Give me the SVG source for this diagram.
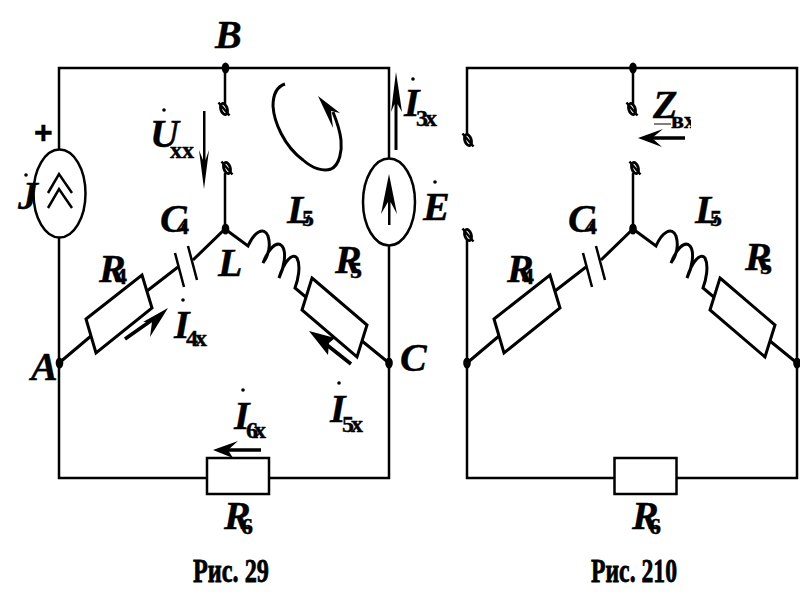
<svg xmlns="http://www.w3.org/2000/svg" width="800" height="608" viewBox="0 0 800 608">
<style>
.w{fill:none;stroke:#000;stroke-width:2.5;stroke-linejoin:miter}
.d{fill:none;stroke:#000;stroke-width:3;stroke-linejoin:miter}
.r{fill:#fff;stroke:#000;stroke-width:2.5}
.q{fill:#fff;stroke:#000;stroke-width:3}
.n{fill:#000}
.a{fill:#000;stroke:none}
.b{fill:none;stroke:#000;stroke-width:3.6}
text{font-family:"Liberation Serif","Times New Roman",serif;fill:#000;font-weight:bold;stroke:#000;stroke-width:.4}
.m{font-style:italic;font-size:40px}
.s{font-size:24px;font-style:normal}
.f{font-size:33px;stroke-width:.8}
</style>
<defs>
<g id="term"><ellipse cx="0" cy="0" rx="3.200" ry="5.800" transform="rotate(-18)" fill="none" stroke="#000" stroke-width="2.800"/><line x1="-5.500" y1="-6.500" x2="5.500" y2="6.500" stroke="#000" stroke-width="2.400"/></g>
<g id="star">
<path class="d" d="M59 363L91 336M147 291L178 267M193 260L225 229L248 246C254 232 264 226 268 236C271 246 268 256 263 263C268 250 276 240 282 246C287 252 284 268 279 278C284 262 292 252 297 258C301 266 298 280 295 288L307 298M362 341L389 363"/>
<path class="w" d="M175 253L184 287M188 246L197 280"/>
</g>
</defs>
<g id="connectors">
<path class="w" d="M59 150V68H389V158M59 238V478H207M269 478H389V245M225 68V104M225 173V229"/>
<path class="w" d="M467 135V68H797V478H676M614 478H467V240M633 68V104M633 173V229"/>
<use href="#star"/>
<use href="#star" transform="translate(408 0)"/>
<path class="b" d="M125 339L152 320M351 364L327 345M261 450H226M685 138H650"/>
<path class="a" d="M168 308L143 322L152 322L150 337Z M309 331L335 338L329 343L328 355Z M213 450L238 441L228 450L233 458Z M638 138L663 129L652 138L662 147Z"/>
<path class="a" d="M204 189L199 150L203 160V111H205.500V160L209 150Z"/>
<path class="a" d="M396 72L391 112L394.500 104V150H397.500V104L402 112Z"/>
<path class="d" d="M285 84C276 87 273 96 273 106C274 122 284 146 303 160C312 168 323 172 331 169C340 165 342 150 341 140C340 130 337 122 333 112"/>
<path class="a" d="M318 96L340 113L331 111L333 128Z"/>
</g>
<g id="node-B"><ellipse class="n" cx="225.500" cy="68" rx="3.800" ry="5.500"/><text class="m" x="215" y="48">B</text></g>
<g id="node-B2"><ellipse class="n" cx="633" cy="68" rx="3.800" ry="5.500"/></g>
<g id="node-L"><ellipse class="n" cx="225.500" cy="229" rx="3.800" ry="5.500"/><text class="m" x="218" y="276">L</text></g>
<g id="node-L2"><ellipse class="n" cx="633" cy="229" rx="3.800" ry="5.500"/></g>
<g id="node-A"><ellipse class="n" cx="59.500" cy="363" rx="3.800" ry="5.500"/><text class="m" x="31" y="380">A</text></g>
<g id="node-A2"><ellipse class="n" cx="467" cy="363" rx="3.800" ry="5.500"/></g>
<g id="node-C"><ellipse class="n" cx="389" cy="363" rx="3.800" ry="5.500"/><text class="m" x="400" y="371">C</text></g>
<g id="node-C2"><ellipse class="n" cx="797" cy="363" rx="3.800" ry="5.500"/></g>
<g id="terminals">
<use href="#term" x="224" y="109"/><use href="#term" x="227" y="168"/>
<use href="#term" x="632" y="109"/><use href="#term" x="635" y="168"/>
<use href="#term" x="468" y="140"/><use href="#term" x="468" y="235"/>
</g>
<g id="source-J">
<ellipse class="r" cx="59.500" cy="193.500" rx="26" ry="44"/>
<path class="w" d="M48 193L59 174L72 193M48 208L59 189L72 208"/>
<text x="34" y="143" font-size="32" style="font-family:'Liberation Sans',sans-serif">+</text>
<circle class="n" cx="26" cy="175" r="1.800"/>
<text class="m" x="18" y="209">J</text>
</g>
<g id="source-E">
<ellipse class="r" cx="389" cy="202" rx="26" ry="43.500"/>
<path class="a" d="M389 174L381 214L388 202V225H390.500V202L397 214Z"/>
<circle class="n" cx="435" cy="182" r="1.800"/>
<text class="m" x="423" y="220">E</text>
</g>
<g id="R4"><path class="q" d="M86 319L142 275L152 308L96 353Z"/><text class="m" x="99" y="282">R<tspan class="s" x="115" y="284">4</tspan></text></g>
<g id="R4b"><path class="q" d="M494 319L550 275L560 308L504 353Z"/><text class="m" x="507" y="282">R<tspan class="s" x="522" y="284">4</tspan></text></g>
<g id="R5"><path class="q" d="M312 278L367 325L357 357L302 310Z"/><text class="m" x="335" y="273">R<tspan class="s" x="350" y="278">5</tspan></text></g>
<g id="R5b"><path class="q" d="M720 278L775 325L765 357L710 310Z"/><text class="m" x="745" y="270">R<tspan class="s" x="760" y="274">5</tspan></text></g>
<g id="R6"><rect class="r" x="207" y="458" width="62" height="36"/><text class="m" x="224" y="529">R<tspan class="s" x="241" y="534">6</tspan></text></g>
<g id="R6b"><rect class="r" x="614.500" y="458" width="62" height="36"/><text class="m" x="632" y="529">R<tspan class="s" x="649" y="534">6</tspan></text></g>
<g id="labels">
<circle class="n" cx="164" cy="110" r="1.800"/><text class="m" x="150" y="147">U<tspan class="s" x="170" y="158">хх</tspan></text>
<text class="m" x="160" y="232">C<tspan class="s" x="177" y="234">4</tspan></text>
<text class="m" x="568" y="232">C<tspan class="s" x="585" y="234">4</tspan></text>
<text class="m" x="287" y="223">L<tspan class="s" x="302" y="226">5</tspan></text>
<text class="m" x="695" y="223">L<tspan class="s" x="710" y="226">5</tspan></text>
<circle class="n" cx="413" cy="79" r="1.800"/><text class="m" x="404" y="116">I<tspan class="s" x="416" y="126">3</tspan><tspan class="s" x="425" y="126">х</tspan></text>
<circle class="n" cx="183" cy="300" r="1.800"/><text class="m" x="174" y="338">I<tspan class="s" x="186" y="346">4</tspan><tspan class="s" x="195" y="346">х</tspan></text>
<circle class="n" cx="339" cy="383" r="1.800"/><text class="m" x="330" y="422">I<tspan class="s" x="342" y="432">5</tspan><tspan class="s" x="351" y="432">х</tspan></text>
<circle class="n" cx="243" cy="390" r="1.800"/><text class="m" x="234" y="429">I<tspan class="s" x="246" y="438">6</tspan><tspan class="s" x="254" y="438">х</tspan></text>
<text class="m" x="653" y="118">Z</text>
<line x1="654" y1="124" x2="671" y2="124" stroke="#000" stroke-width="1"/>
<clipPath id="vx"><rect x="670" y="105" width="21" height="30"/></clipPath>
<text class="s" x="671" y="128" clip-path="url(#vx)">вх</text>
<text class="f" x="193" y="582" textLength="76" lengthAdjust="spacingAndGlyphs">Рис. 29</text>
<text class="f" x="591" y="582" textLength="86" lengthAdjust="spacingAndGlyphs">Рис. 210</text>
</g>
</svg>
